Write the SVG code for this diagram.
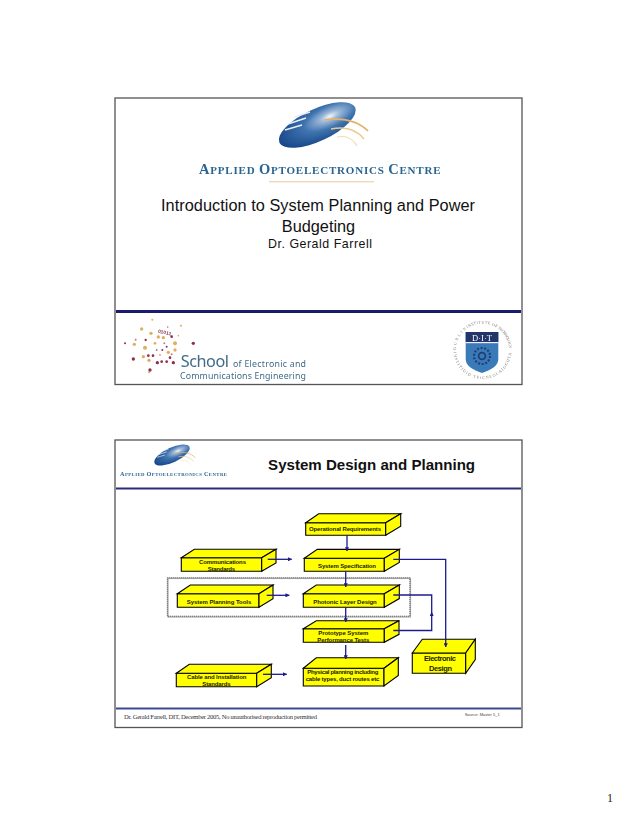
<svg xmlns="http://www.w3.org/2000/svg" xmlns:xlink="http://www.w3.org/1999/xlink" width="638" height="826" viewBox="0 0 638 826">
<style>
.frame{fill:#fff;stroke:#555;stroke-width:1.3}
.box path{fill:#ffff00;stroke:#000;stroke-width:1.1;stroke-linejoin:miter}
.l{font-family:"Liberation Sans",Arial,sans-serif;font-weight:700;font-size:6px;text-anchor:middle;fill:#222200}
.t{font-family:"Liberation Sans",Arial,sans-serif;fill:#111;text-anchor:middle}
.c{fill:none;stroke:#1c1c8c;stroke-width:1.3}
.logo{font-family:"Liberation Serif",serif;font-weight:700;fill:#2a6592}
.sch{font-family:"Noto Sans",sans-serif;fill:#3f6b88}
.o{fill:#dfae5e}.m{fill:#8f2f4c}.p{fill:#c77a86}
.r{font-family:"Liberation Serif",serif;font-size:4px;fill:#777}
</style>
<defs>
<marker id="a" viewBox="0 0 6 6" refX="5.5" refY="3" markerWidth="4.2" markerHeight="4.2" orient="auto" markerUnits="userSpaceOnUse"><path d="M0 0L6 3L0 6z" fill="#1c1c8c"/></marker>
<radialGradient id="eg" cx="0.68" cy="0.42" r="0.75"><stop offset="0" stop-color="#f4f7fb"/><stop offset="0.16" stop-color="#9db8d8"/><stop offset="0.45" stop-color="#3f74b0"/><stop offset="1" stop-color="#123f83"/></radialGradient>
<filter id="b" x="-10%" y="-10%" width="120%" height="120%"><feGaussianBlur stdDeviation="0.45"/></filter>
<path id="r1" d="M456 350A26.5 26.5 0 0 1 467.3 328.3"/>
<path id="r2" d="M467.3 328.3A26.5 26.5 0 0 1 497.7 328.3"/>
<path id="r3" d="M497.7 328.3A26.5 26.5 0 0 1 509 350"/>
<path id="r4" d="M453.5 350A29 29 0 0 0 511.5 350"/>
<g id="mark">
<ellipse cx="317.3" cy="125" rx="41.8" ry="16" transform="rotate(-25 317.3 125)" fill="url(#eg)"/>
<path d="M288 124L306 118M285 130L302 125M294 117L310 112" stroke="#e9eff7" stroke-width="1.4" fill="none"/>
<path d="M324 120C345 117 358 121 368 131" stroke="#e3b36a" stroke-width="1.6" fill="none"/>
<path d="M331 129C346 126 357 130 364 139" stroke="#edc990" stroke-width="1.4" fill="none"/>
<path d="M337 137C347 135 353 139 357 146" stroke="#f3dcb8" stroke-width="1.2" fill="none"/>
</g>
</defs>
<rect width="638" height="826" fill="#fff"/>

<g id="slide1">
<rect class="frame" x="115" y="98" width="407" height="286.5"/>
<rect x="116" y="310" width="405" height="3" fill="#1b1b6e"/>
<g id="logo-aoc" filter="url(#b)">
<use xlink:href="#mark" href="#mark"/>
<text class="logo" x="199" y="173.7" font-size="11" textLength="241.5" lengthAdjust="spacing"><tspan font-size="14.5">A</tspan>PPLIED <tspan font-size="14.5">O</tspan>PTOELECTRONICS <tspan font-size="14.5">C</tspan>ENTRE</text>
<rect x="269" y="181" width="105" height="1.4" fill="#ecd9b8"/>
</g>
<text class="t" x="318" y="211" font-size="16.3" textLength="314">Introduction to System Planning and Power</text>
<text class="t" x="318.5" y="231.5" font-size="16.3">Budgeting</text>
<text class="t" x="320" y="248" font-size="12.4" textLength="104">Dr. Gerald Farrell</text>
<g id="logo-school" filter="url(#b)">
<g transform="translate(125 315) scale(0.3333)">
<circle class="o" cx="50" cy="42" r="5"/><circle class="o" cx="78" cy="55" r="5"/><circle class="o" cx="100" cy="66" r="5"/><circle class="o" cx="115" cy="68" r="5"/><circle class="o" cx="150" cy="85" r="6"/><circle class="o" cx="150" cy="105" r="5"/><circle class="o" cx="130" cy="112" r="5"/><circle class="o" cx="60" cy="98" r="6"/><circle class="o" cx="28" cy="88" r="5"/><circle class="o" cx="55" cy="125" r="5"/><circle class="o" cx="72" cy="136" r="5"/><circle class="o" cx="90" cy="85" r="4"/><circle class="o" cx="168" cy="32" r="3"/><circle class="o" cx="82" cy="14" r="3"/><circle class="o" cx="72" cy="172" r="3"/><circle class="o" cx="105" cy="120" r="3"/><circle class="o" cx="160" cy="62" r="2.5"/>
<circle class="m" cx="205" cy="85" r="5"/><circle class="m" cx="25" cy="132" r="5"/><circle class="m" cx="75" cy="165" r="5"/><circle class="m" cx="145" cy="143" r="5"/><circle class="m" cx="110" cy="140" r="4"/><circle class="m" cx="97" cy="143" r="5"/><circle class="m" cx="125" cy="140" r="4"/><circle class="m" cx="140" cy="65" r="4"/><circle class="m" cx="62" cy="75" r="3.5"/><circle class="m" cx="70" cy="122" r="4"/><circle class="m" cx="84" cy="122" r="4"/><circle class="m" cx="125" cy="95" r="3"/><circle class="m" cx="112" cy="105" r="3"/><circle class="m" cx="0" cy="85" r="3"/><circle class="m" cx="135" cy="128" r="4"/>
<circle class="p" cx="32" cy="74" r="3"/><circle class="p" cx="128" cy="36" r="2.5"/><circle class="p" cx="95" cy="105" r="3"/><circle class="p" cx="118" cy="85" r="3"/><circle class="p" cx="140" cy="118" r="3"/>
<text x="98" y="53" font-family="Liberation Sans,sans-serif" font-weight="700" font-size="15" class="m" transform="rotate(12 98 53)">01011</text>
</g>
<text class="sch" x="180.7" y="366.7" font-size="16.2" textLength="48.3">School</text>
<text class="sch" x="233" y="366.5" font-size="8.8" textLength="73">of Electronic and</text>
<text class="sch" x="180" y="379" font-size="8.8" textLength="126">Communications Engineering</text>
</g>
<g id="logo-dit" filter="url(#b)">
<text class="r"><textPath href="#r1" xlink:href="#r1" textLength="24">DUBLIN</textPath></text>
<text class="r"><textPath href="#r2" xlink:href="#r2" textLength="31">INSTITUTE OF</textPath></text>
<text class="r"><textPath href="#r3" xlink:href="#r3" textLength="24">TECHNOLOGY</textPath></text>
<text class="r"><textPath href="#r4" xlink:href="#r4" textLength="86" startOffset="2">INSTITIUID TEICNEOLAIOCHTA</textPath></text>
<path d="M465.7 332H498.3V359C498.3 366 491 370 482 373C473 370 465.7 366 465.7 359z" fill="#3a7ab8"/>
<rect x="465.7" y="332" width="32.6" height="10" fill="#21346b"/>
<rect x="465.7" y="342" width="32.6" height="1.2" fill="#eef"/>
<text x="482" y="340.6" font-family="Liberation Serif,serif" font-size="8.5" fill="#fff" text-anchor="middle">D·I·T</text>
<circle cx="482" cy="356" r="8" fill="none" stroke="#1e3f77" stroke-width="2.2" stroke-dasharray="2 1.6"/>
<circle cx="482" cy="356" r="3.4" fill="none" stroke="#1e3f77" stroke-width="1.8"/>
</g>
</g>

<g id="slide2">
<rect class="frame" x="115" y="440" width="407" height="287.5"/>
<rect x="116" y="487.5" width="405" height="2" fill="#2c2c78"/>
<rect x="116" y="707.5" width="405" height="2" fill="#3c4a90"/>
<g id="logo-aoc-small" filter="url(#b)">
<use xlink:href="#mark" href="#mark" transform="translate(172 455) scale(0.46) translate(-317.3 -125)"/>
<text class="logo" x="120" y="476.3" font-size="4.8" textLength="107" lengthAdjust="spacing"><tspan font-size="6.2">A</tspan>PPLIED <tspan font-size="6.2">O</tspan>PTOELECTRONICS <tspan font-size="6.2">C</tspan>ENTRE</text>
</g>
<text x="371.6" y="470" class="t" font-size="15.1" font-weight="700" fill="#000" textLength="207">System Design and Planning</text>
<text x="124" y="719" font-family="Liberation Serif,serif" font-size="6.6" fill="#333" textLength="193">Dr. Gerald Farrell, DIT, December 2005, No unauthorised reproduction permitted</text>
<text x="464.7" y="716" font-family="Liberation Sans,sans-serif" font-size="4" fill="#444" textLength="35">Source: Master  5_1</text>
</g>

<g id="planning-region" fill="none">
<rect x="168" y="578.5" width="242.5" height="38.5" stroke="#aaa" stroke-width="1.2"/>
<rect x="167.3" y="577.7" width="242.5" height="38.5" stroke="#222" stroke-width="0.8" stroke-dasharray="1 1"/>
</g>

<g id="n1" class="box"><path d="M305.7 522.7h80v12.6h-80z"/><path d="M305.7 522.7l13-9h82l-15 9z"/><path d="M385.7 522.7l15-9v12.6l-15 9z"/><text class="l" x="345" y="531" textLength="72">Operational Requirements</text></g>
<g id="n2" class="box"><path d="M181.3 557.7h80.4v13.6h-80.4z"/><path d="M181.3 557.7l13-8.4h81.7l-14.3 8.4z"/><path d="M261.7 557.7l14.3-8.4v13.6l-14.3 8.4z"/><text class="l" x="222.5" y="564" textLength="47">Communications</text><text class="l" x="221.4" y="570.7" textLength="27.5">Standards</text></g>
<g id="n3" class="box"><path d="M304.3 558.3h80v13h-80z"/><path d="M304.3 558.3l13-8.9h82l-15 8.9z"/><path d="M384.3 558.3l15-8.9v13l-15 8.9z"/><text class="l" x="347" y="568" textLength="58">System Specification</text></g>
<g id="n4" class="box"><path d="M177.3 593.7h81.7v13.6h-81.7z"/><path d="M177.3 593.7l13-8.7h82.7l-14 8.7z"/><path d="M259 593.7l14-8.7v13.6l-14 8.7z"/><text class="l" x="219" y="604.3" textLength="64.5">System Planning Tools</text></g>
<g id="n5" class="box"><path d="M303.3 593.7h81v13.6h-81z"/><path d="M303.3 593.7l13-8.7h83l-15 8.7z"/><path d="M384.3 593.7l15-8.7v13.6l-15 8.7z"/><text class="l" x="345" y="604" textLength="63.5">Photonic Layer Design</text></g>
<g id="n6" class="box"><path d="M303.3 628.7h81v13.6h-81z"/><path d="M303.3 628.7l13-8h82.7l-14.7 8z"/><path d="M384.3 628.7l14.7-8v13.6l-14.7 8z"/><text class="l" x="343.3" y="634.7" textLength="50">Prototype System</text><text class="l" x="343.3" y="641.7" textLength="52">Performance Tests</text></g>
<g id="n7" class="box"><path d="M303.3 668.3h80.7v17.7h-80.7z"/><path d="M303.3 668.3l13-10.6h82l-14.3 10.6z"/><path d="M384 668.3l14.3-10.6v17.7l-14.3 10.6z"/><text class="l" x="342.8" y="674" textLength="71">Physical planning including</text><text class="l" x="342.5" y="680.7" textLength="73.6">cable types,  duct routes etc</text></g>
<g id="n8" class="box"><path d="M412.3 653h53.4v20.3h-53.4z"/><path d="M412.3 653l10-13.7h53l-9.6 13.7z"/><path d="M465.7 653l9.6-13.7v20.3l-9.6 13.7z"/><text class="l" style="font-size:7.5px" x="440" y="660.7" textLength="32">Electronic</text><text class="l" style="font-size:7.5px" x="440.5" y="670.7" textLength="23">Design</text></g>
<g id="n9" class="box"><path d="M176.3 673.3h80.4v13.4h-80.4z"/><path d="M176.3 673.3l13-9h82l-14.6 9z"/><path d="M256.7 673.3l14.6-9v13.4l-14.6 9z"/><text class="l" x="216.7" y="678.7" textLength="59.3">Cable and Installation</text><text class="l" x="216.5" y="685.7" textLength="28.4">Standards</text></g>

<g id="connectors">
<path class="c" marker-end="url(#a)" d="M347 535.3V551"/>
<path class="c" marker-end="url(#a)" d="M345.7 571.3V587"/>
<path class="c" marker-end="url(#a)" d="M345.7 607.3V622"/>
<path class="c" marker-end="url(#a)" d="M345.7 645V659"/>
<path class="c" marker-end="url(#a)" d="M267.7 559.3H291.7"/>
<path class="c" marker-end="url(#a)" d="M266.7 595.3H289.3"/>
<path class="c" marker-end="url(#a)" d="M263 674.3H286.7"/>
<path class="c" marker-end="url(#a)" d="M393.3 559.3H445.7V647"/>
<path class="c" d="M393.3 630.5H431.7V595H393.3"/>
<path d="M431.7 611.5L433.6 616H429.8z" fill="#1c1c8c"/>
</g>

<text id="page-number" x="607" y="802" font-family="Liberation Serif,serif" font-size="12" fill="#222">1</text>
</svg>
